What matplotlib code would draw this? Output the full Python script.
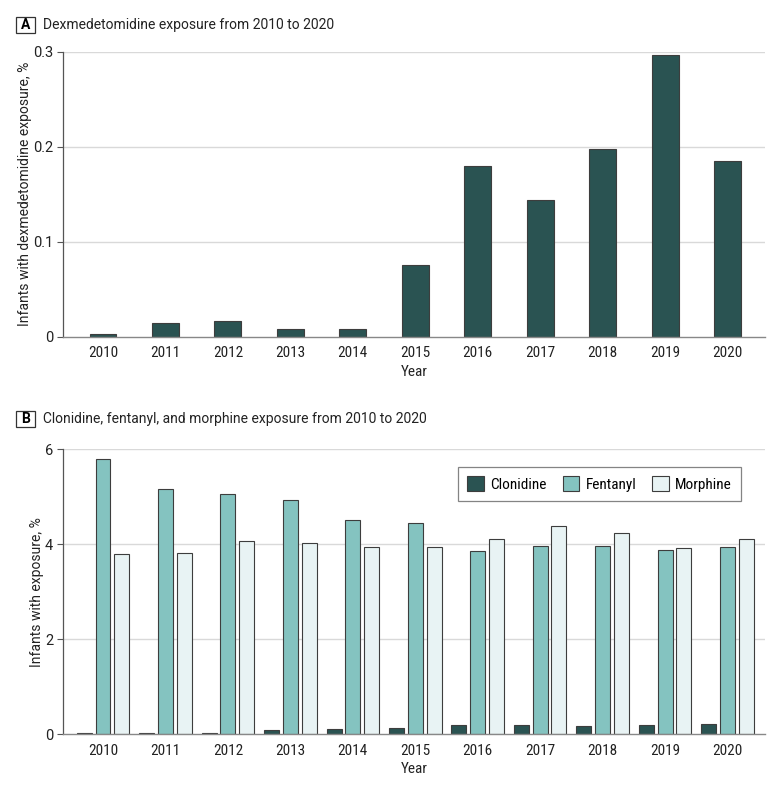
import numpy as np
import matplotlib
matplotlib.use("Agg")
import matplotlib.pyplot as plt
from matplotlib.patches import Rectangle
from matplotlib import font_manager

years = ["2010", "2011", "2012", "2013", "2014", "2015",
         "2016", "2017", "2018", "2019", "2020"]
dexmed = [0.0025, 0.014, 0.017, 0.0085, 0.0085, 0.075,
          0.180, 0.144, 0.198, 0.296, 0.185]
clonidine = [0.02, 0.02, 0.035, 0.085, 0.11, 0.125,
             0.19, 0.20, 0.18, 0.20, 0.22]
fentanyl = [5.80, 5.16, 5.07, 4.93, 4.51, 4.44,
            3.87, 3.96, 3.96, 3.88, 3.94]
morphine = [3.79, 3.81, 4.06, 4.02, 3.94, 3.95,
            4.11, 4.38, 4.23, 3.93, 4.11]

dark = "#2a5352"
mid = "#84c3c0"
light = "#e8f3f4"
edge = "#3d3d3d"
txt = "#222222"

# pick a narrow font if one is around
names = {f.name for f in font_manager.fontManager.ttflist}
narrow = "DejaVu Sans"
for cand in ["Roboto Condensed", "Liberation Sans Narrow", "Open Sans Condensed",
             "Noto Sans Condensed", "DejaVu Sans Condensed"]:
    if cand in names:
        narrow = cand
        break
NARROW = [narrow, "DejaVu Sans"]
REG = ["Roboto", "DejaVu Sans"]

plt.rcParams["font.family"] = NARROW
plt.rcParams["font.stretch"] = "condensed"

fig = plt.figure(figsize=(7.8, 7.89), dpi=100)
axA = fig.add_axes([0.0808, 0.5733, 0.9, 0.3612])
axB = fig.add_axes([0.0808, 0.0693, 0.9, 0.3612])

x = np.arange(len(years))


def style(ax, ymax, ticks, labels, ylabel):
    ax.set_xlim(-0.64, 10.6)
    ax.set_ylim(0, ymax)
    ax.set_yticks(ticks)
    ax.set_yticklabels(labels, fontsize=10.5, color=txt, family=REG)
    ax.set_xticks(x)
    ax.set_xticklabels(years, fontsize=11, color=txt)
    ax.tick_params(axis="x", length=0, pad=7)
    ax.tick_params(axis="y", length=4, width=0.8, color="#555555", pad=3)
    for t in ticks[1:]:
        ax.axhline(t, color="#d9d9d9", lw=1.0, zorder=0)
    for s in ["top", "right"]:
        ax.spines[s].set_visible(False)
    ax.spines["left"].set_color("#555555")
    ax.spines["bottom"].set_color("#888888")
    ax.spines["left"].set_linewidth(0.9)
    ax.spines["bottom"].set_linewidth(1.0)
    ax.set_xlabel("Year", fontsize=11, color=txt, labelpad=3)
    ax.set_ylabel(ylabel, fontsize=10, color=txt, labelpad=1, family=REG)


# Panel A
axA.bar(x, dexmed, width=0.43, color=dark, edgecolor=edge, linewidth=0.8, zorder=2)
style(axA, 0.3, [0, 0.1, 0.2, 0.3], ["0", "0.1", "0.2", "0.3"],
      "Infants with dexmedetomidine exposure, %")

# Panel B
w = 0.24
off = 0.30
axB.bar(x - off, clonidine, width=w, color=dark, edgecolor=edge, linewidth=0.8,
        zorder=2, label="Clonidine")
axB.bar(x, fentanyl, width=w, color=mid, edgecolor=edge, linewidth=0.8,
        zorder=2, label="Fentanyl")
axB.bar(x + off, morphine, width=w, color=light, edgecolor=edge, linewidth=0.8,
        zorder=2, label="Morphine")
style(axB, 6, [0, 2, 4, 6], ["0", "2", "4", "6"], "Infants with exposure, %")

leg = axB.legend(loc="upper right", bbox_to_anchor=(0.966, 0.938), ncol=3,
                 frameon=True, fancybox=False, handlelength=1.1,
                 handleheight=1.1, columnspacing=1.05, handletextpad=0.4,
                 borderpad=0.6, borderaxespad=0,
                 prop={"family": NARROW, "size": 11})
leg.get_frame().set_edgecolor("#666666")
leg.get_frame().set_linewidth(0.9)

# Panel headers
for letter, ytop, title in [("A", 17, "Dexmedetomidine exposure from 2010 to 2020"),
                            ("B", 411, "Clonidine, fentanyl, and morphine exposure from 2010 to 2020")]:
    fig.patches.append(Rectangle((16 / 780, 1 - (ytop + 16) / 789), 19 / 780, 16 / 789,
                                 transform=fig.transFigure, fill=False,
                                 edgecolor="#333333", linewidth=0.9))
    fig.text(25.5 / 780, 1 - (ytop + 8) / 789, letter, ha="center", va="center",
             fontsize=10, fontweight="bold", family=REG)
    fig.text(43 / 780, 1 - (ytop + 8) / 789, title, ha="left", va="center",
             fontsize=10, family=REG, color=txt)

fig.savefig("out.png", dpi=100)
